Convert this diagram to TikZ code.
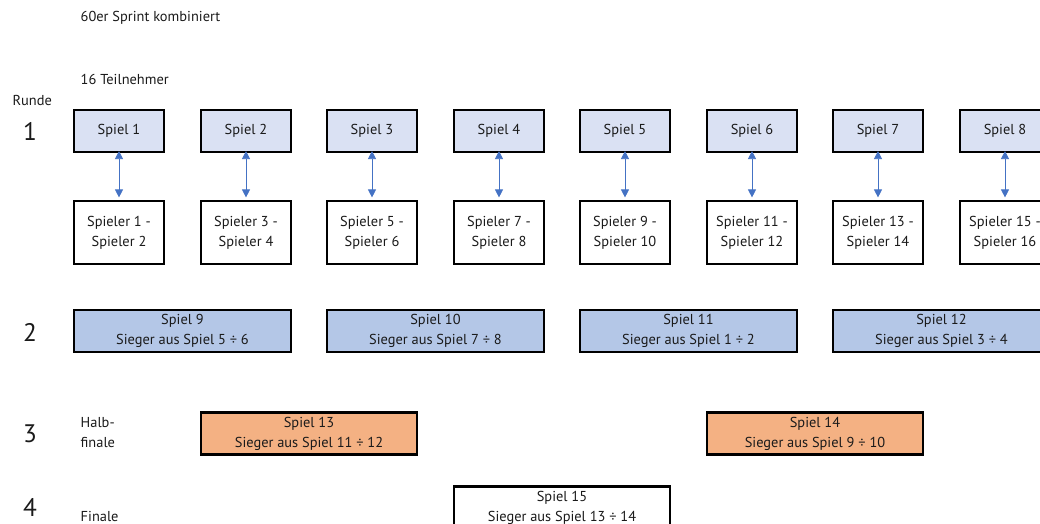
\documentclass[tikz,border=0pt]{standalone}
\usepackage{fontspec}
\setmainfont{PT Sans}
\usetikzlibrary{arrows.meta}
\definecolor{gamefill}{HTML}{DAE1F3}
\definecolor{rtwofill}{HTML}{B4C7E7}
\definecolor{semifill}{HTML}{F4B183}
\definecolor{arrowblue}{HTML}{4472C4}
\definecolor{txt}{HTML}{1A1A1A}
\begin{document}
\begin{tikzpicture}[x=0.75pt,y=-0.75pt,
  every node/.style={text=txt,font=\fontsize{10.8}{15}\selectfont},
  box/.style={draw=black,line width=1.6pt,minimum height=31.5pt,inner sep=0pt,align=center},
  gamebox/.style={box,fill=gamefill,minimum width=67.5pt},
  playerbox/.style={box,fill=white,minimum width=67.5pt,minimum height=47pt},
  widebox/.style={box,minimum width=162.5pt},
  link/.style={draw=arrowblue,line width=0.6pt,{Triangle[length=6pt,width=6pt]}-{Triangle[length=6pt,width=6pt]}},
  roundnum/.style={font=\fontsize{19}{20}\selectfont},
  label/.style={anchor=west,align=left}]
\useasboundingbox (0,0) rectangle (1040,524);
\node[label] (title) at (76,18) {60er Sprint kombiniert};
\node[label] (count) at (76,79) {16 Teilnehmer};
\node[label] (runde) at (8,100) {Runde};
\node[roundnum] (r1) at (30,131) {1};
\node[roundnum] (r2) at (30,332) {2};
\node[roundnum] (r3) at (30,434) {3};
\node[roundnum] (r4) at (30,507) {4};
\node[label] (halb) at (76,433) {Halb-\\finale};
\node[label] (finale) at (76,516) {Finale};
\foreach \i/\cx in {1/119,2/246,3/372,4/499,5/625,6/752,7/878,8/1005}{
  \pgfmathtruncatemacro{\pa}{2*\i-1}
  \pgfmathtruncatemacro{\pb}{2*\i}
  \node[gamebox] (g\i) at (\cx,131) {Spiel \i};
  \node[playerbox] (p\i) at (\cx,232.5) {Spieler \pa\ -\\Spieler \pb};
  \draw[link] (g\i.south) ++(0,-2) coordinate (gs\i) (gs\i) -- ([yshift=2pt]p\i.north);
}
\node[widebox,fill=rtwofill] (g9) at (182.5,331) {Spiel 9\\Sieger aus Spiel 5 ÷ 6};
\node[widebox,fill=rtwofill] (g10) at (435.5,331) {Spiel 10\\Sieger aus Spiel 7 ÷ 8};
\node[widebox,fill=rtwofill] (g11) at (688.5,331) {Spiel 11\\Sieger aus Spiel 1 ÷ 2};
\node[widebox,fill=rtwofill] (g12) at (941.5,331) {Spiel 12\\Sieger aus Spiel 3 ÷ 4};
\node[widebox,fill=semifill] (g13) at (309,433.5) {Spiel 13\\Sieger aus Spiel 11 ÷ 12};
\node[widebox,fill=semifill] (g14) at (815,433.5) {Spiel 14\\Sieger aus Spiel 9 ÷ 10};
\node[widebox,fill=white] (g15) at (562,507.5) {Spiel 15\\Sieger aus Spiel 13 ÷ 14};
\end{tikzpicture}
\end{document}
